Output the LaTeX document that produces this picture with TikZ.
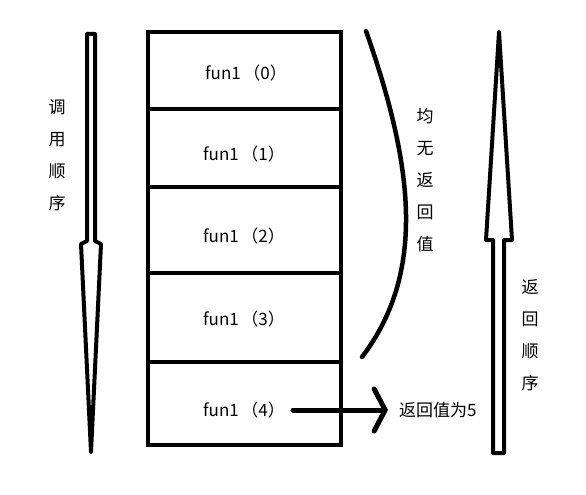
\documentclass[tikz,border=0pt]{standalone}
\usepackage{fontspec}
\setmainfont{Noto Sans CJK SC}
\usetikzlibrary{arrows.meta}
\newcommand{\fcall}[1]{fun1\hspace{2.5pt}（#1）}
\begin{document}
\begin{tikzpicture}[x=1pt,y=-1pt,
  thick line/.style={line width=4.5pt},
  cell/.style={font=\fontsize{17}{17}\selectfont, inner sep=1pt},
  vlabel/.style={font=\fontsize{17}{32}\selectfont, align=center, inner sep=0pt},
  bigarrow/.style={line width=4pt, line join=round, fill=white}]
\useasboundingbox (0,0) rectangle (586,495);
% stack frame
\draw[thick line] (148,32) rectangle (341,445);
\foreach \yy in {109,187,273,362} \draw[thick line] (148,\yy) -- (343,\yy);
\node[cell] (f0) at (246,73) {\fcall{0}};
\node[cell] (f1) at (244,154) {\fcall{1}};
\node[cell] (f2) at (244,236) {\fcall{2}};
\node[cell] (f3) at (244,319) {\fcall{3}};
\node[cell] (f4) at (244,410) {\fcall{4}};
% return value
\node[cell, anchor=west] (ret) at (398,410) {返回值为5};
\draw[line width=5pt, line cap=round, shorten <=7pt, shorten >=10pt,
  -{Straight Barb[length=11pt,width=42pt,line cap=round]}] (f4.east) -- (ret.west);
% brace curve
\draw[line width=4.5pt, line cap=round] (366,31) .. controls (415,170) and (425,274) .. (362,357);
\node[vlabel] (none) at (425,180) {均\\无\\返\\回\\值};
% call order arrow
\draw[bigarrow] (87,34) -- (95,34) -- (95,241) -- (101,244) -- (91,452) -- (81,244) -- (87,241) -- cycle;
\node[vlabel] (call) at (57,155) {调\\用\\顺\\序};
% return order arrow
\draw[bigarrow] (499,32) -- (512,240) -- (504,240) -- (504,453) -- (493,453) -- (493,240) -- (486,240) -- cycle;
\node[vlabel] (back) at (530,335) {返\\回\\顺\\序};
\end{tikzpicture}
\end{document}
